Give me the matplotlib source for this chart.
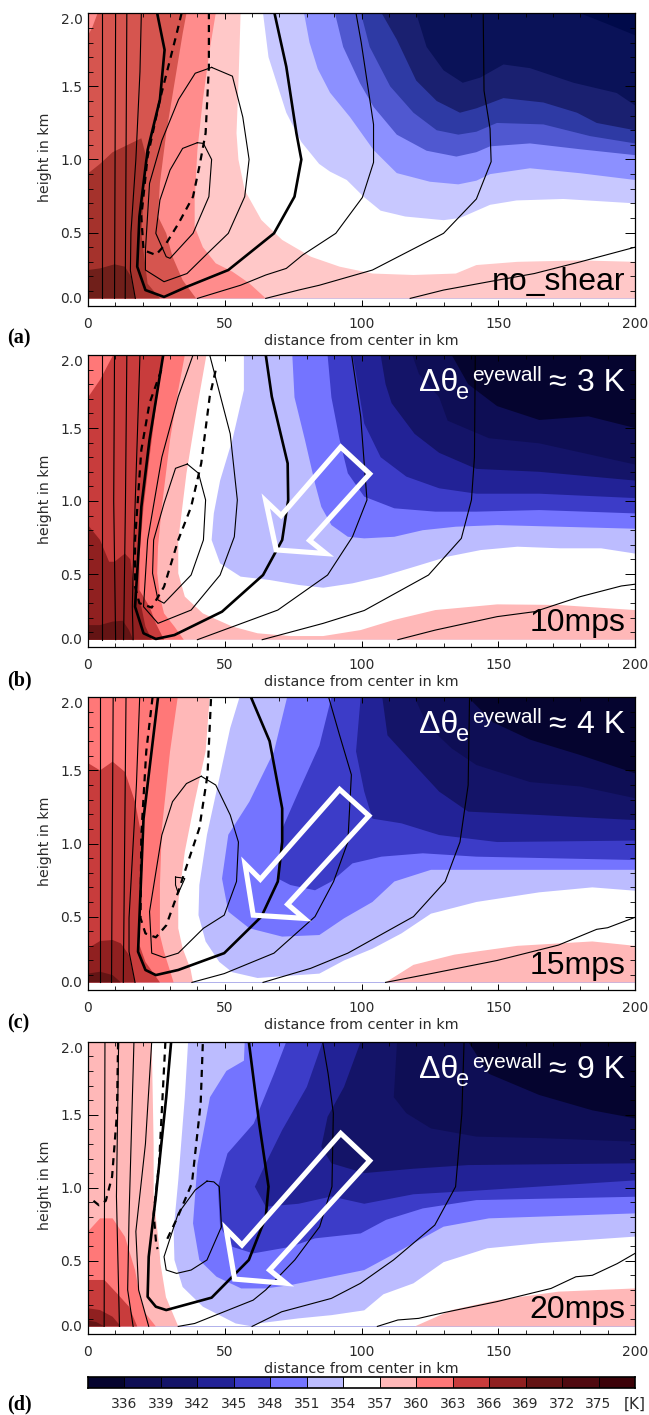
"""Four panels of theta-e (filled) with thin/thick/dashed contours, shear cases."""

import matplotlib
matplotlib.use("Agg")
import matplotlib.pyplot as plt
from matplotlib.patches import Polygon
from matplotlib.ticker import MultipleLocator
import numpy as np

W, H = 649, 1415
TOP = 2.0
BOT = 0.05

LEVELS = [336, 339, 342, 345, 348, 351, 354, 357, 360, 363, 366, 369, 372, 375]
XTICKS = [0, 50, 100, 150, 200]
YTICKS = [0.0, 0.5, 1.0, 1.5, 2.0]
TAGS = ["(a)", "(b)", "(c)", "(d)"]
CASES = ["no_shear", "10mps", "15mps", "20mps"]
DELTAS = [None, 3, 4, 9]

BAR_COLORS = ["#05042f", "#0e0e55", "#141468", "#222296", "#3c3cc8", "#7474ff", "#bcbcff", "#ffffff",
              "#ffb8b8", "#ff7878", "#c83c3c", "#902020", "#641414", "#500a10", "#3c0208"]
A_COLORS = ["#000a4a", "#0a1258", "#1a2070", "#2e3aa4", "#5058d0", "#8c90ff", "#c8c8ff", "#ffffff",
            "#ffc8c8", "#ff8c8c", "#d6554f", "#a5322c", "#701f1a"]

# isotherms in order 336, 339, ... each is (km, height) with the warm side lower left
A_ISO = [
    [(180, 2.0), (189.5, 1.93), (200, 1.85)],
    [(120, 2.0), (123.8, 1.77), (130, 1.61), (137, 1.525), (143.4, 1.56), (151.9, 1.65), (161.6, 1.625), (177.5, 1.525), (193.3, 1.455), (200, 1.37)],
    [(107.4, 2.0), (112.9, 1.82), (120, 1.54), (127.5, 1.4), (136, 1.32), (142, 1.35), (151.9, 1.42), (166.5, 1.39), (178.8, 1.32), (186, 1.25), (200, 1.2)],
    [(99.8, 2.0), (103, 1.77), (110.5, 1.5), (119, 1.32), (127.5, 1.2), (135.4, 1.17), (142, 1.19), (149.5, 1.25), (166.5, 1.24), (183.6, 1.16), (200, 1.11)],
    [(90.3, 2.0), (93.3, 1.77), (99.5, 1.52), (104.4, 1.36), (112.9, 1.17), (123.8, 1.06), (134.7, 1.02), (142, 1.05), (147, 1.09), (161.6, 1.11), (180, 1.07), (200, 1.03)],
    [(79, 2.0), (81, 1.8), (84, 1.62), (88.5, 1.457), (95.8, 1.29), (104.4, 1.065), (112.9, 0.907), (125, 0.848), (135.4, 0.83), (142, 0.855), (147, 0.9), (161.6, 0.94), (180, 0.906), (200, 0.86)],
    [(64, 2.0), (66, 1.7), (72.5, 1.32), (78, 1.12), (84.5, 0.97), (88.5, 0.917), (94.6, 0.86), (100.8, 0.745), (107, 0.65), (116, 0.61), (130, 0.585), (136, 0.6), (147, 0.69), (156.7, 0.72), (173.8, 0.73), (200, 0.7)],
    [(55.8, 2.0), (55, 1.52), (54.3, 1.18), (55, 1.0), (57.3, 0.79), (63.4, 0.586), (71, 0.45), (81.5, 0.335), (92, 0.267), (104, 0.22), (119, 0.21), (134.5, 0.22), (142, 0.278), (157, 0.3), (180, 0.31), (200, 0.3)],
    [(46.7, 2.0), (44.5, 1.75), (42, 1.41), (40, 1.065), (39, 0.72), (39, 0.54), (42, 0.4), (46.7, 0.29), (52.8, 0.233), (59, 0.153), (65, 0.05)],
    [(0, 1.85), (1.5, 1.9), (3.5, 2.0), (36, 2.0), (34.6, 1.86), (31.6, 1.52), (28.6, 1.18), (26.3, 0.84), (25.6, 0.61), (28.6, 0.495), (30.9, 0.335), (34.6, 0.175), (39.5, 0.05)],
    [(0, 0.905), (4.4, 0.97), (9, 1.05), (19.5, 1.145), (21, 1.04), (20.3, 0.72), (19.5, 0.495), (21.8, 0.15), (26.3, 0.05)],
    [(0, 0.244), (4.4, 0.255), (9.7, 0.283), (13.5, 0.267), (15.7, 0.2), (17.2, 0.05)],
]
A_THICK = [[(25.3, 2.0), (28, 1.75), (26.3, 1.41), (21.8, 1.065), (18.8, 0.61), (18, 0.267), (21, 0.107), (27.8, 0.06), (36.2, 0.13), (51.3, 0.244), (68, 0.495), (75.5, 0.746), (78, 1.0), (76.2, 1.18), (72.5, 1.635), (68.2, 2.0)]]
A_DASH = [[(34.2, 2.0), (32.4, 1.86), (26.3, 1.41), (21.8, 1.02), (19.5, 0.61), (20.3, 0.38), (24.8, 0.347), (28.6, 0.426), (33.1, 0.563), (38.4, 0.746), (40.7, 0.95), (43, 1.18), (44.2, 1.635), (44.2, 2.0)]]
A_THIN = [
    [(5, 2.0), (5, 0.05)],
    [(10.1, 2.0), (9.7, 0.05)],
    [(14.2, 2.0), (13.9, 1.0), (13.6, 0.05)],
    [(19.5, 2.0), (19, 1.6), (17.5, 1.0), (15.7, 0.5), (15.5, 0.24), (17.3, 0.05)],
    [(45.2, 1.63), (39.2, 1.59), (33.1, 1.41), (27, 1.13), (22.5, 0.837), (21, 0.38), (21, 0.244), (27.8, 0.164), (36.2, 0.22), (43.7, 0.358), (51.3, 0.495), (57.3, 0.746), (58.9, 1.0), (56.6, 1.29), (52.8, 1.57), (45.2, 1.63)],
    [(40, 1.115), (34.6, 1.076), (30, 0.928), (26.3, 0.723), (24.8, 0.495), (28.6, 0.335), (30, 0.324), (38.4, 0.495), (44.2, 0.746), (45.2, 1.0), (42.2, 1.11), (40, 1.115)],
    [(40, 0.05), (55.8, 0.14), (65, 0.21), (72.5, 0.255), (78.5, 0.347), (90.6, 0.495), (100.3, 0.74), (104.4, 0.98), (104.4, 1.24), (99.9, 1.8), (98, 2.0)],
    [(65, 0.05), (77, 0.107), (84.6, 0.14), (104, 0.244), (130, 0.495), (142, 0.73), (147.4, 0.985), (147, 1.21), (144.8, 1.47), (144.5, 2.0)],
    [(117.8, 0.05), (130, 0.107), (146.6, 0.164), (163.2, 0.22), (180, 0.3), (200, 0.4)],
]

B_ISO = [
    [(133, 2.0), (139, 1.8), (149.6, 1.65), (165, 1.555), (183, 1.58), (200, 1.5)],
    [(118.6, 2.0), (121, 1.87), (128.4, 1.71), (131.5, 1.55), (146.6, 1.43), (165, 1.395), (200, 1.25)],
    [(107, 2.0), (108.8, 1.8), (111, 1.67), (119.4, 1.46), (128.4, 1.33), (142, 1.22), (165, 1.2), (200, 1.14)],
    [(96.7, 2.0), (98, 1.87), (101, 1.53), (107, 1.3), (116.4, 1.167), (128.4, 1.087), (142, 1.05), (165, 1.05), (200, 1.02)],
    [(87.6, 2.0), (89, 1.71), (92, 1.42), (95, 1.19), (101, 1.03), (112, 0.95), (127, 0.927), (142, 0.927), (165, 0.938), (200, 0.915)],
    [(74.7, 2.0), (75.5, 1.71), (79.3, 1.42), (83, 1.12), (85.3, 0.96), (89, 0.835), (95, 0.755), (101, 0.744), (112, 0.755), (122.4, 0.8), (134.5, 0.824), (149.7, 0.835), (172, 0.824), (200, 0.81)],
    [(57, 2.0), (57, 1.76), (52.8, 1.42), (48.3, 1.14), (46, 0.915), (45.2, 0.733), (48.3, 0.573), (55.8, 0.482), (66.4, 0.459), (77, 0.425), (86, 0.406), (96.7, 0.436), (107.3, 0.482), (119.4, 0.55), (131.5, 0.619), (143.6, 0.664), (157, 0.687), (172.5, 0.676), (187.6, 0.676), (200, 0.64)],
    [(43.3, 2.0), (40, 1.65), (36, 1.19), (33, 0.73), (33, 0.505), (35.4, 0.345), (42, 0.23), (52.8, 0.14), (62, 0.094), (74, 0.075), (86, 0.075), (99.7, 0.116), (111.8, 0.185), (127, 0.253), (149.6, 0.292), (172, 0.288), (200, 0.253)],
    [(35.4, 2.0), (33, 1.76), (30, 1.42), (27, 0.96), (25.6, 0.687), (25.3, 0.505), (26.3, 0.345), (27.8, 0.23), (31.6, 0.14), (35, 0.05)],
    [(0, 1.71), (4.4, 1.83), (9.2, 2.0), (27.4, 2.0), (25.6, 1.76), (22.5, 1.3), (20.3, 0.96), (18.8, 0.62), (18.8, 0.39), (22.5, 0.276), (24.8, 0.162), (27.8, 0.05)],
    [(0, 0.835), (4.4, 0.733), (7.7, 0.584), (9.7, 0.584), (13.5, 0.64), (15.5, 0.6), (17.2, 0.368), (19.5, 0.276), (21, 0.14), (23.3, 0.05)],
    [(0, 0.15), (4.4, 0.15), (9, 0.174), (12.7, 0.18), (15, 0.116), (16.5, 0.05)],
]
B_THICK = [[(27.5, 2.0), (22.5, 1.42), (19.5, 0.96), (17.2, 0.276), (20.3, 0.094), (24.8, 0.055), (31.6, 0.082), (49, 0.242), (64, 0.493), (71, 0.733), (73.2, 1.007), (73, 1.258), (67.2, 1.715), (65, 2.0)]]
B_DASH = [[(26.8, 1.897), (22.5, 1.67), (19.5, 1.35), (17.2, 0.733), (17.2, 0.413), (18.8, 0.3), (23.3, 0.27), (27.8, 0.413), (33, 0.733), (37.7, 0.96), (41.4, 1.258), (44.5, 1.715), (46.7, 1.897)]]
B_THIN = [
    [(5.1, 2.0), (5.1, 0.05)],
    [(9.7, 2.0), (9.4, 1.0), (10.1, 0.05)],
    [(14.2, 2.0), (13.7, 1.0), (13.2, 0.3), (13, 0.05)],
    [(19, 2.0), (18, 1.42), (16.8, 0.73), (16.2, 0.276), (16.5, 0.05)],
    [(38.4, 2.0), (33, 1.715), (27, 1.3), (21.8, 0.733), (20.3, 0.276), (25.6, 0.162), (37.7, 0.253), (48.3, 0.493), (53.5, 0.755), (54.6, 1.007), (52, 1.46), (44.5, 2.0)],
    [(36.3, 1.253), (32, 1.224), (27.8, 0.984), (24, 0.733), (23.6, 0.505), (25.6, 0.322), (27.8, 0.3), (37.7, 0.493), (42.2, 0.733), (43, 1.007), (40.4, 1.19), (36.3, 1.253)],
    [(40, 0.05), (69.4, 0.253), (87.6, 0.493), (96.7, 0.755), (102, 1.007), (99.7, 1.578), (96.4, 2.0)],
    [(63.7, 0.05), (86, 0.162), (101, 0.25), (124.5, 0.493), (136.5, 0.744), (140.2, 1.007), (141.3, 1.3), (141.6, 2.0)],
    [(113.3, 0.05), (127, 0.116), (149.6, 0.208), (163.3, 0.242), (180, 0.345), (195, 0.418), (200, 0.43)],
]
B_ARROW = [(92.4, 1.37), (103, 1.186), (81, 0.73), (87, 0.64), (68.8, 0.665), (65, 1.0), (70.6, 0.9)]

C_ISO = [
    [(139, 2.0), (148, 1.83), (161.7, 1.71), (180, 1.605), (200, 1.48)],
    [(119.4, 2.0), (124, 1.81), (133, 1.65), (142, 1.537), (161.7, 1.42), (180, 1.39), (200, 1.31)],
    [(107.6, 2.0), (109.5, 1.74), (119.4, 1.537), (128.4, 1.355), (139, 1.218), (165, 1.195), (200, 1.16)],
    [(99.7, 2.0), (98, 1.63), (101, 1.355), (104, 1.17), (114.6, 1.138), (128.4, 1.058), (149.6, 1.01), (200, 1.02)],
    [(89, 2.0), (84.6, 1.67), (77, 1.355), (71, 1.1), (69.4, 0.76), (74, 0.716), (83, 0.68), (89, 0.74), (96.7, 0.864), (107.3, 0.91), (122.4, 0.933), (142, 0.91), (200, 0.887)],
    [(72.8, 2.0), (68, 1.63), (59, 1.286), (51.3, 1.06), (49, 0.76), (51.3, 0.534), (59, 0.42), (71, 0.363), (84.6, 0.374), (93.6, 0.488), (104, 0.6), (112, 0.74), (125.4, 0.82), (149.6, 0.82), (200, 0.82)],
    [(55.4, 2.0), (52, 1.79), (48, 1.445), (43.5, 1.06), (40.7, 0.716), (40.4, 0.51), (43, 0.33), (48, 0.19), (52.7, 0.12), (62, 0.08), (74, 0.096), (84.6, 0.11), (93.6, 0.2), (104, 0.28), (114.6, 0.385), (125.4, 0.52), (142, 0.6), (165, 0.666), (184.4, 0.7), (200, 0.677)],
    [(44.5, 2.0), (43, 1.63), (39, 1.286), (35.4, 0.944), (33, 0.6), (33, 0.42), (34.6, 0.283), (37.5, 0.14), (38.4, 0.05), (108.8, 0.05), (119, 0.17), (134, 0.24), (157, 0.3), (184.4, 0.33), (200, 0.3)],
    [(32.8, 2.0), (30, 1.63), (27, 1.1), (26.3, 0.716), (26.3, 0.374), (27.8, 0.26), (31.3, 0.05)],
    [(0, 1.55), (4.4, 1.5), (9, 1.56), (13.5, 1.49), (17.2, 1.286), (19.5, 1.058), (18.8, 0.6), (18.8, 0.306), (21, 0.19), (26.3, 0.05)],
    [(0, 0.283), (4.4, 0.333), (9, 0.34), (12, 0.317), (15, 0.237), (17.2, 0.05)],
    [(0, 0.11), (4.4, 0.123), (9, 0.1), (12, 0.05)],
]
C_THICK = [[(25.6, 2.0), (20.3, 1.17), (18.3, 0.26), (21, 0.135), (24.8, 0.1), (33, 0.135), (49.8, 0.25), (63.4, 0.5), (69.4, 0.74), (71, 1.01), (71, 1.24), (66.4, 1.7), (59.6, 2.0)]]
C_DASH = [[(23.6, 2.0), (21.3, 1.63), (19.5, 1.06), (19.2, 0.49), (21, 0.385), (24.8, 0.358), (28.6, 0.44), (33, 0.67), (36.2, 0.853), (40.7, 1.104), (43.7, 1.47), (45, 2.0)]]
C_THIN = [
    [(4.4, 2.0), (4.4, 0.05)],
    [(9.2, 2.0), (8.6, 0.05)],
    [(13.9, 2.0), (13.2, 0.6), (12.9, 0.05)],
    [(18.9, 2.0), (17.7, 1.4), (15, 0.49), (15, 0.26), (17.2, 0.05)],
    [(41.4, 1.46), (36, 1.41), (30.9, 1.286), (27, 1.058), (22.5, 0.534), (23.3, 0.25), (27.8, 0.22), (33, 0.25), (42.2, 0.42), (49.8, 0.51), (54.3, 0.74), (55, 1.01), (52, 1.195), (46.7, 1.4), (41.4, 1.46)],
    [(32, 0.77), (33.8, 0.766), (35.4, 0.76), (33, 0.66), (32, 0.716), (32, 0.77)],
    [(38, 0.05), (49.8, 0.11), (68, 0.25), (83, 0.5), (89.8, 0.74), (95, 1.01), (96.3, 1.47), (92, 1.74), (88, 2.0)],
    [(64, 0.05), (81.4, 0.146), (95, 0.25), (119, 0.5), (130.6, 0.74), (136, 1.01), (139, 1.4), (139.5, 2.0)],
    [(108.8, 0.05), (125.4, 0.11), (149.6, 0.2), (172, 0.305), (186, 0.413), (190, 0.424), (200, 0.495)],
]
C_ARROW = [(92, 1.37), (102.7, 1.19), (73, 0.584), (79, 0.488), (60.4, 0.51), (57.4, 0.86), (63, 0.755)]

D_ISO = [
    [(139, 2.0), (146.6, 1.78), (165, 1.635), (184.4, 1.53), (200, 1.475)],
    [(113, 2.0), (111.8, 1.62), (116.4, 1.51), (125.4, 1.406), (142, 1.35), (165, 1.34), (200, 1.315)],
    [(99.7, 2.0), (93.6, 1.69), (87.6, 1.486), (85.3, 1.28), (89, 1.167), (101, 1.1), (119, 1.13), (139, 1.155), (200, 1.167)],
    [(85.8, 2.0), (80, 1.69), (71, 1.395), (65, 1.167), (61, 1.007), (65, 0.87), (77, 0.89), (89, 0.94), (101, 0.89), (119, 0.955), (142, 0.98), (200, 1.05)],
    [(72.5, 2.0), (68, 1.78), (60.6, 1.44), (51, 1.235), (47.5, 1.007), (48.3, 0.733), (52.8, 0.595), (60.4, 0.55), (74, 0.595), (83, 0.653), (99.7, 0.687), (109, 0.78), (122.4, 0.858), (142, 0.915), (200, 0.938)],
    [(57.3, 2.0), (57, 1.87), (50.6, 1.8), (44.6, 1.62), (40, 1.16), (38.4, 0.756), (40.7, 0.505), (47, 0.39), (56, 0.31), (65, 0.31), (74, 0.333), (89, 0.39), (101, 0.436), (110, 0.527), (130, 0.733), (146.6, 0.79), (200, 0.824)],
    [(36.6, 2.0), (35.4, 1.62), (33, 1.05), (31.3, 0.71), (31.6, 0.505), (34.6, 0.32), (42, 0.185), (54, 0.07), (60, 0.05), (62, 0.07), (77, 0.105), (89, 0.127), (101, 0.16), (108, 0.27), (119, 0.345), (130, 0.49), (146, 0.585), (165, 0.62), (200, 0.665)],
    [(23.3, 2.0), (24, 1.3), (24, 0.93), (26, 0.6), (26.5, 0.48), (28.5, 0.25), (33, 0.05), (119.5, 0.05), (133, 0.162), (149.6, 0.23), (172, 0.288), (200, 0.31)],
    [(0, 0.7), (4.4, 0.79), (9, 0.79), (13.5, 0.664), (17.2, 0.436), (19, 0.253), (21, 0.14), (24.8, 0.05)],
    [(0, 0.368), (6, 0.368), (10.6, 0.276), (15, 0.185), (18, 0.05)],
    [(0, 0.174), (4.4, 0.162), (9, 0.116), (12, 0.05)],
    [(0, 0.09), (3, 0.08), (6, 0.05)],
]
D_THICK = [[(30.4, 2.0), (28.6, 1.62), (24.8, 0.94), (22.2, 0.527), (21.8, 0.253), (24.8, 0.185), (28.6, 0.162), (45.2, 0.247), (58.8, 0.505), (65, 0.8), (66, 1.007), (62.6, 1.44), (58.8, 2.0)]]
D_DASH = [
    [(2, 0.91), (4, 0.88), (6.5, 0.91), (8.8, 1.075), (10.6, 1.51), (11, 2.0)],
    [(28.3, 2.0), (26, 1.167), (24, 0.82), (25, 0.6), (25.5, 0.58)],
    [(29, 0.65), (32.8, 0.8), (38, 1.03), (41.2, 1.58), (42, 2.0)],
]
D_THIN = [
    [(6.2, 2.0), (5.9, 0.05)],
    [(11.2, 2.0), (10.4, 0.94), (11.5, 0.05)],
    [(16.8, 2.0), (15, 0.8), (14.5, 0.3), (16.5, 0.05)],
    [(23.3, 2.0), (21, 1.3), (17.5, 0.7), (18.5, 0.3), (22.2, 0.05)],
    [(43.5, 1.045), (39.2, 0.984), (33, 0.824), (27.8, 0.527), (28.6, 0.436), (32.4, 0.413), (37.7, 0.436), (43.5, 0.505), (48.8, 0.733), (48, 1.007), (46, 1.04), (43.5, 1.045)],
    [(33, 0.05), (39, 0.07), (60.4, 0.23), (65, 0.3), (75.6, 0.505), (84.7, 0.733), (89.2, 1.007), (89.7, 1.51), (87.8, 1.78), (85.8, 2.0)],
    [(60, 0.05), (70.8, 0.15), (89, 0.242), (99.6, 0.345), (111.7, 0.505), (126.8, 0.744), (134.4, 1.007), (136.7, 1.51), (137.5, 2.0)],
    [(105.8, 0.05), (113.3, 0.094), (120.9, 0.105), (130, 0.144), (149.6, 0.22), (169.3, 0.31), (178.4, 0.39), (184.4, 0.4), (193.5, 0.48), (200, 0.55)],
]
D_ARROW = [(92.4, 1.372), (103, 1.185), (66.4, 0.436), (72.4, 0.345), (53.6, 0.374), (50.5, 0.717), (56.3, 0.607)]

PANELS = [
    (A_ISO, A_THICK, A_DASH, A_THIN, None, A_COLORS),
    (B_ISO, B_THICK, B_DASH, B_THIN, B_ARROW, BAR_COLORS),
    (C_ISO, C_THICK, C_DASH, C_THIN, C_ARROW, BAR_COLORS),
    (D_ISO, D_THICK, D_DASH, D_THIN, D_ARROW, BAR_COLORS),
]
# axes top and bottom in image pixels
BOXES = [(13.3, 305.7), (355, 647), (697.3, 989.7), (1041.7, 1333.7)]
TAG_Y = [338, 680, 1023, 1404]
LEFT, RIGHT = 88, 635
GRAY = "#2a2a2a"
SANS = ["Liberation Sans", "DejaVu Sans"]


def warm_side(curve):
    """Close an isotherm round the warm corner of the panel."""
    pts = list(curve)
    if pts[-1][0] >= 200:
        pts.append((200, BOT))
    pts.append((0, BOT))
    if pts[0][0] > 0:
        pts.append((0, TOP))
    return pts


def draw_line(ax, curve, **kw):
    arr = np.array(curve)
    ax.plot(arr[:, 0], arr[:, 1], color="black", zorder=3, clip_on=True, **kw)


fig = plt.figure(figsize=(W / 100, H / 100), dpi=100)


def px_text(x, y, s, **kw):
    return fig.text(x / W, 1 - y / H, s, **kw)


for i, (iso, thick, dash, thin, arrow, colors) in enumerate(PANELS):
    top, bottom = BOXES[i]
    ax = fig.add_axes([LEFT / W, 1 - bottom / H, (RIGHT - LEFT) / W, (bottom - top) / H])
    ax.set_xlim(0, 200)
    ax.set_ylim(0, 2)
    ax.add_patch(Polygon([(0, BOT), (200, BOT), (200, TOP), (0, TOP)], fc=colors[0], ec="none", zorder=1))
    for k, curve in enumerate(iso):
        ax.add_patch(Polygon(warm_side(curve), fc=colors[k + 1], ec="none", zorder=1 + 0.01 * k))
    for curve in thin:
        draw_line(ax, curve, lw=0.8)
    for curve in thick:
        draw_line(ax, curve, lw=1.9)
    for curve in dash:
        draw_line(ax, curve, lw=1.6, dashes=(3.2, 2.6))
    if arrow is not None:
        ax.add_patch(Polygon(arrow, closed=True, fc="none", ec="white", lw=3.7, joinstyle="miter", zorder=4))

    ax.set_xticks(XTICKS)
    ax.set_yticks(YTICKS)
    ax.xaxis.set_minor_locator(MultipleLocator(10))
    ax.yaxis.set_minor_locator(MultipleLocator(0.1))
    ax.tick_params(axis="x", which="major", direction="in", top=True, length=4.5, width=0.7, pad=8,
                   labelsize=10, labelcolor=GRAY)
    ax.tick_params(axis="y", which="major", direction="in", right=True, length=7.5, width=0.7, pad=4,
                   labelsize=10, labelcolor=GRAY)
    ax.tick_params(axis="x", which="minor", direction="in", top=True, length=2.8, width=0.6)
    ax.tick_params(axis="y", which="minor", direction="in", right=True, length=3.6, width=0.6)
    ax.set_yticklabels([f"{t:.1f}" for t in YTICKS])
    ylabels = ax.get_yticklabels()
    ylabels[0].set_va("bottom")
    ylabels[-1].set_va("top")
    for spine in ax.spines.values():
        spine.set_linewidth(0.9)
        spine.set_zorder(5)
    ax.set_axisbelow(False)

    px_text((LEFT + RIGHT) / 2, bottom + 35, "distance from center in km", fontsize=10.4, color=GRAY,
            ha="center", va="center")
    px_text(45, (top + bottom) / 2 - 2, "height in km", fontsize=10.2, color=GRAY, rotation=90,
            ha="center", va="center")
    px_text(7, TAG_Y[i], TAGS[i], family="Liberation Serif", fontweight="bold", fontsize=14.5,
            ha="left", va="center")

    px_text(625.5, bottom - 16, CASES[i], family=SANS, fontsize=23, color="black", ha="right",
            va="baseline", zorder=6)
    if DELTAS[i] is not None:
        base = top + 36
        px_text(419, base, "\u0394\u03b8", family=SANS, fontsize=23, color="white", va="baseline", zorder=6)
        px_text(456, base + 8, "e", family=SANS, fontsize=17, color="white", va="baseline", zorder=6)
        px_text(472, base - 10, "eyewall", family=SANS, fontsize=15, color="white", va="baseline", zorder=6)
        px_text(548, base, "\u2248", family=SANS, fontsize=23, color="white", va="baseline", zorder=6)
        px_text(625, base, f"{DELTAS[i]} K", family=SANS, fontsize=23, color="white", ha="right",
                va="baseline", zorder=6)

# colour bar
cax = fig.add_axes([LEFT / W, 1 - 1388.3 / H, (RIGHT - LEFT) / W, 11 / H])
edges = np.arange(len(BAR_COLORS) + 1) * 3 + 333
for k, col in enumerate(BAR_COLORS):
    cax.axvspan(edges[k], edges[k + 1], color=col, lw=0)
    if k > 0:
        cax.axvline(edges[k], color="black", lw=0.7)
cax.set_xlim(edges[0], edges[-1])
cax.set_ylim(0, 1)
cax.set_yticks([])
cax.set_xticks(LEVELS)
cax.set_xticklabels([str(v) for v in LEVELS])
cax.tick_params(length=0, pad=6, labelsize=10, labelcolor=GRAY)
for spine in cax.spines.values():
    spine.set_linewidth(1.2)
px_text(635, 1404, "[K]", fontsize=11, color=GRAY, ha="center", va="center")

fig.savefig("out.png", dpi=100)
